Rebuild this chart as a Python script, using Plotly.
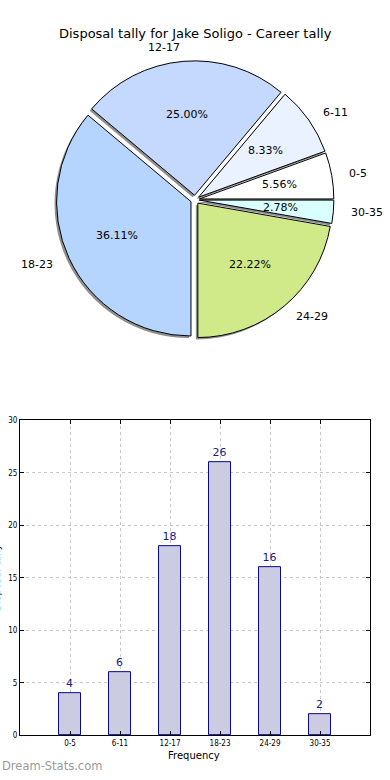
import math
import plotly.graph_objects as go

# ---- data ----
categories = ["0-5", "6-11", "12-17", "18-23", "24-29", "30-35"]
counts = [4, 6, 18, 26, 16, 2]
pie_colors = ["#ffffff", "#eaf1ff", "#c5d9ff", "#b5d5ff", "#d0ea8a", "#d9ffff"]
title_text = "Disposal tally for Jake Soligo - Career tally"
x_title = "Frequency"
y_title = "Disposal tally"
y_ticks = [0, 5, 10, 15, 20, 25, 30]
watermark = "Dream-Stats.com"

# ---- layout constants (pixels) ----
W, H = 390, 780
FONT = "DejaVu Sans"
cx, cy = 195.0, 198.0      # pie centre
r = 136.0                  # pie radius
pull = 0.033
half = r * (1 + pull)
shadow_dx, shadow_dy = -2.0, 2.0

total = sum(counts)
# plotly puts the END of the first slice at `rotation` when counterclockwise;
# matplotlib starts the first slice at 3 o'clock.
rotation = 90 - 360.0 * counts[0] / total


def px_x(x):
    return x / W


def px_y(y):
    return 1 - y / H


fig = go.Figure()

# shadow pie
fig.add_trace(go.Pie(
    labels=categories, values=counts, sort=False, direction="counterclockwise",
    rotation=rotation, pull=[pull] * len(counts), textinfo="none", hoverinfo="skip",
    marker=dict(colors=["#8f8f8f"] * len(counts), line=dict(width=0)),
    domain=dict(x=[px_x(cx - half + shadow_dx), px_x(cx + half + shadow_dx)],
                y=[px_y(cy + half + shadow_dy), px_y(cy - half + shadow_dy)]),
    showlegend=False,
))
# main pie
fig.add_trace(go.Pie(
    labels=categories, values=counts, sort=False, direction="counterclockwise",
    rotation=rotation, pull=[pull] * len(counts), textinfo="none",
    marker=dict(colors=pie_colors, line=dict(width=1, color="#000000")),
    domain=dict(x=[px_x(cx - half), px_x(cx + half)],
                y=[px_y(cy + half), px_y(cy - half)]),
    showlegend=False,
))

annotations = []
cum = 0
for cat, v in zip(categories, counts):
    theta = 2 * math.pi * (cum + v / 2) / total
    cum += v
    ox = pull * r * math.cos(theta)
    oy = pull * r * math.sin(theta)
    # category label
    lx = cx + ox + 1.1 * r * math.cos(theta)
    ly = cy - oy - 1.1 * r * math.sin(theta)
    annotations.append(dict(
        x=px_x(lx), y=px_y(ly), xref="paper", yref="paper", text=cat,
        showarrow=False, xanchor="left" if math.cos(theta) > 0 else "right",
        yanchor="middle", font=dict(family=FONT, size=11, color="#000000")))
    # percentage
    tx = cx + ox + 0.6 * r * math.cos(theta)
    ty = cy - oy - 0.6 * r * math.sin(theta)
    annotations.append(dict(
        x=px_x(tx), y=px_y(ty), xref="paper", yref="paper",
        text=f"{100 * v / total:.2f}%", showarrow=False,
        xanchor="center", yanchor="middle",
        font=dict(family=FONT, size=11, color="#000000")))

# title
annotations.append(dict(x=px_x(195), y=px_y(30), xref="paper", yref="paper",
                        text=title_text, showarrow=False, xanchor="center",
                        yanchor="middle",
                        font=dict(family=FONT, size=13, color="#000000")))
# y axis title (mostly cut off at the left edge, as in the reference)
annotations.append(dict(x=px_x(-4), y=px_y(581), xref="paper", yref="paper",
                        text=y_title, showarrow=False, textangle=-90,
                        xanchor="center", yanchor="middle",
                        font=dict(family=FONT, size=10, color="#000000")))
# x axis title
annotations.append(dict(x=px_x(194), y=px_y(760), xref="paper", yref="paper",
                        text=x_title, showarrow=False, xanchor="center",
                        yanchor="middle",
                        font=dict(family=FONT, size=10, color="#000000")))
# watermark
annotations.append(dict(x=px_x(0), y=px_y(771), xref="paper", yref="paper",
                        text=watermark, showarrow=False, xanchor="left",
                        yanchor="middle",
                        font=dict(family=FONT, size=11.5, color="#9a9a9a")))

# bar chart
fig.add_trace(go.Bar(
    x=categories, y=counts, width=0.45,
    marker=dict(color="#cbcbe2", line=dict(color="#0a0a8a", width=1)),
    text=[str(c) for c in counts], textposition="outside",
    textfont=dict(family=FONT, size=11, color="#1a1a8c"),
    cliponaxis=False, showlegend=False, xaxis="x", yaxis="y",
))

fig.update_layout(
    width=W, height=H, margin=dict(l=0, r=0, t=0, b=0),
    paper_bgcolor="#ffffff", plot_bgcolor="#ffffff",
    annotations=annotations,
    xaxis=dict(domain=[px_x(20), px_x(370)], range=[-1, 6],
               type="category", categoryorder="array", categoryarray=categories,
               showline=True, linecolor="#000000", linewidth=1, mirror="ticks",
               ticks="inside", ticklen=4, tickcolor="#000000",
               showgrid=True, gridcolor="#c8c8c8", griddash="dot", gridwidth=1,
               tickfont=dict(family="DejaVu Sans Condensed", size=8, color="#000000"),
               zeroline=False, fixedrange=True),
    yaxis=dict(domain=[px_y(740), px_y(421)], range=[0, 30],
               tickvals=y_ticks,
               showline=True, linecolor="#000000", linewidth=1, mirror="ticks",
               ticks="inside", ticklen=4, tickcolor="#000000",
               showgrid=True, gridcolor="#c8c8c8", griddash="dot", gridwidth=1,
               tickfont=dict(family="DejaVu Sans Condensed", size=8, color="#000000"),
               zeroline=False, fixedrange=True),
    bargap=0,
)

fig.write_html(
    "out.html",
    config={"displayModeBar": False},
    post_script="document.body.style.margin='0';document.body.style.padding='0';",
)
